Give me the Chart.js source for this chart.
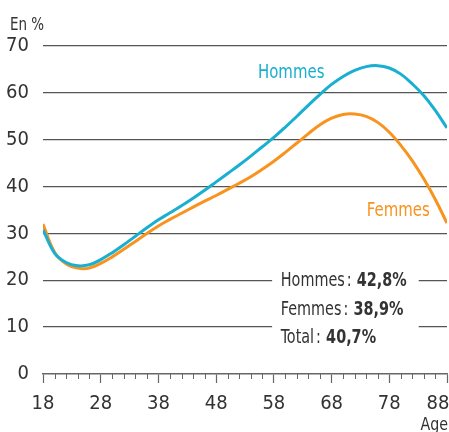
<!DOCTYPE html>
<html>
<head>
<meta charset="utf-8">
<script src="https://cdn.jsdelivr.net/npm/chart.js@4.4.1/dist/chart.umd.min.js"></script>
<style>
  html, body { margin: 0; padding: 0; background: #fff; }
  #wrap { width: 449px; height: 432px; position: relative; }
</style>
</head>
<body>
<div id="wrap"><canvas id="chart" width="449" height="432"></canvas></div>
<script>
// Data
const ages = [18, 20, 22, 24, 26, 28, 30, 32, 34, 36, 38, 40, 42, 44, 46, 48, 50, 52,
  54, 56, 58, 60, 62, 64, 66, 68, 70, 72, 74, 76, 78, 80, 82, 84, 86, 88];
const hommes = [30.8, 25.8, 23.8, 23.1, 23.3, 24.4, 25.9, 27.6, 29.4, 31.2, 32.9, 34.4,
  35.9, 37.5, 39.2, 41.0, 42.8, 44.6, 46.5, 48.5, 50.5, 52.7, 55.0, 57.4, 59.7, 61.8,
  63.5, 64.8, 65.6, 65.8, 65.3, 64.0, 61.9, 59.4, 56.2, 52.5];
const femmes = [32.0, 26.0, 23.5, 22.6, 22.6, 23.6, 25.0, 26.6, 28.3, 30.0, 31.6, 33.0,
  34.3, 35.6, 36.9, 38.1, 39.4, 40.7, 42.1, 43.7, 45.4, 47.3, 49.3, 51.3, 53.2, 54.6,
  55.4, 55.5, 55.0, 53.7, 51.6, 48.8, 45.5, 41.6, 37.2, 32.2];
const xMajorTicks = [18, 28, 38, 48, 58, 68, 78, 88];
const yTicks = [0, 10, 20, 30, 40, 50, 60, 70];
const summaryNames = ['Hommes', 'Femmes', 'Total'];
const summaryValues = ['42,8%', '38,9%', '40,7%'];

const FONT = "'DejaVu Sans Condensed', 'Liberation Sans Narrow', sans-serif";
const CYAN = '#18afd1';
const ORANGE = '#f7931e';
const GRID = '#555555';
const TEXT = '#333333';

const toPoints = vals => ages.map((a, i) => ({ x: a, y: vals[i] }));

// draws text squeezed horizontally (the original lettering is condensed), returns width
function narrowText(ctx, str, x, y, font, color, squeeze) {
  ctx.save();
  ctx.font = font;
  ctx.fillStyle = color;
  ctx.translate(x, y);
  ctx.scale(squeeze, 1);
  ctx.fillText(str, 0, 0);
  const w = ctx.measureText(str).width * squeeze;
  ctx.restore();
  return w;
}

// Extra drawing: minor ticks, summary box, series labels, axis captions
const extras = {
  id: 'extras',
  beforeDatasetsDraw(chart) {
    const { ctx, scales: { x, y } } = chart;
    // white box interrupting the 10 and 20 gridlines
    const l = x.getPixelForValue(57.7), r = x.getPixelForValue(83.1);
    const t = y.getPixelForValue(24), b = y.getPixelForValue(5);
    ctx.save();
    ctx.fillStyle = '#fff';
    ctx.fillRect(l, t, r - l, b - t);
    ctx.restore();
  },
  afterDraw(chart) {
    const { ctx, scales: { x, y } } = chart;
    ctx.save();
    // minor ticks every 2 years
    ctx.strokeStyle = '#666';
    ctx.lineWidth = 1;
    const y0 = y.getPixelForValue(0);
    for (let a = 18; a <= 88; a += 2) {
      if (xMajorTicks.includes(a)) continue;
      const px = Math.round(x.getPixelForValue(a)) + 0.5;
      ctx.beginPath();
      ctx.moveTo(px, y0);
      ctx.lineTo(px, y0 + 5);
      ctx.stroke();
    }
    ctx.textBaseline = 'middle';

    // summary text
    const left = x.getPixelForValue(59.2);
    const rows = [19.8, 13.75, 7.7];
    summaryNames.forEach((name, i) => {
      const py = y.getPixelForValue(rows[i]);
      const w = narrowText(ctx, name, left, py, `20px ${FONT}`, TEXT, 0.8);
      narrowText(ctx, ':', left + w + 2, py, `20px ${FONT}`, TEXT, 0.8);
      narrowText(ctx, summaryValues[i], left + w + 12, py, `bold 20px ${FONT}`, TEXT, 0.8);
    });

    // series labels
    narrowText(ctx, 'Hommes', x.getPixelForValue(55.25), y.getPixelForValue(64.3), `20px ${FONT}`, CYAN, 0.83);
    narrowText(ctx, 'Femmes', x.getPixelForValue(74.1), y.getPixelForValue(34.9), `20px ${FONT}`, ORANGE, 0.83);

    // axis captions
    narrowText(ctx, 'En %', 10, 26, `17px ${FONT}`, TEXT, 0.88);
    ctx.textBaseline = 'alphabetic';
    ctx.font = `18px ${FONT}`;
    const ageW = ctx.measureText('Age').width * 0.88;
    narrowText(ctx, 'Age', 448 - ageW, 430, `18px ${FONT}`, TEXT, 0.88);
    ctx.restore();
  }
};

new Chart(document.getElementById('chart'), {
  type: 'line',
  data: {
    datasets: [
      { label: 'Hommes', data: toPoints(hommes), borderColor: CYAN, borderWidth: 3, pointRadius: 0, tension: 0.4, fill: false },
      { label: 'Femmes', data: toPoints(femmes), borderColor: ORANGE, borderWidth: 3, pointRadius: 0, tension: 0.4, fill: false }
    ]
  },
  options: {
    responsive: false,
    animation: false,
    layout: { padding: { top: 46, right: 2, left: 0, bottom: 0 } },
    plugins: { legend: { display: false }, tooltip: { enabled: false } },
    scales: {
      x: {
        type: 'linear',
        min: 18,
        max: 88,
        afterBuildTicks: s => { s.ticks = xMajorTicks.map(v => ({ value: v })); },
        afterFit: s => { s.height = 58; s.paddingLeft = 0; s.paddingRight = 0; },
        border: { display: true, color: '#666', width: 1.5 },
        grid: { drawOnChartArea: false, drawTicks: true, tickLength: 9, tickColor: '#666', tickWidth: 1.2 },
        ticks: {
          color: TEXT,
          font: { family: FONT, size: 20 },
          padding: 9,
          maxRotation: 0,
          // last label sits flush with the right edge, as in the original
          callback: v => v === 88 ? '88\u2002\u2002' : String(v)
        }
      },
      y: {
        min: 0,
        max: 70,
        afterBuildTicks: s => { s.ticks = yTicks.map(v => ({ value: v })); },
        afterFit: s => { s.width = 43; },
        border: { display: false },
        grid: { color: ctx => ctx.tick && ctx.tick.value === 0 ? 'rgba(0,0,0,0)' : GRID, lineWidth: 1.3, drawTicks: false },
        ticks: { color: TEXT, font: { family: FONT, size: 20 }, padding: 14 }
      }
    }
  },
  plugins: [extras]
});
</script>
</body>
</html>
